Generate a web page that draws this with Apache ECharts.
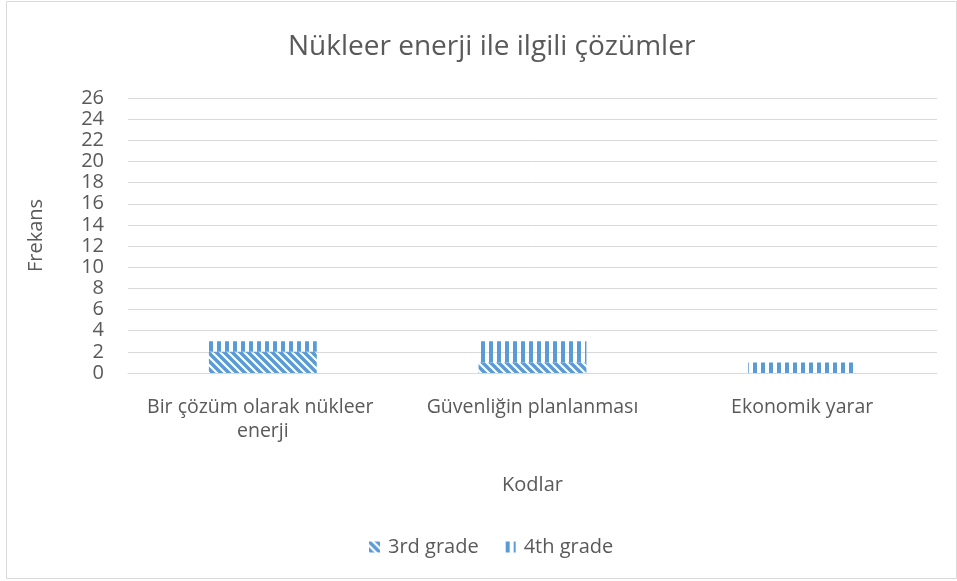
<!DOCTYPE html>
<html>
<head>
<meta charset="utf-8">
<script src="https://cdn.jsdelivr.net/npm/echarts@6/dist/echarts.min.js"></script>
<style>
  html, body { margin: 0; padding: 0; background: #fff; }
  #chart { width: 957px; height: 581px; }
</style>
</head>
<body>
<div id="chart"></div>
<script>
const titleText = 'Nükleer enerji ile ilgili çözümler';
const categories = ['Bir çözüm olarak nükleer enerji', 'Güvenliğin planlanması', 'Ekonomik yarar'];
const seriesNames = ['3rd grade', '4th grade'];
const grade3 = [2, 1, 0];
const grade4 = [1, 2, 1];
const yTicks = { min: 0, max: 26, step: 2 };

const BLUE = '#5b9bd5';
const TEXT = '#595959';
const FONT = '"Open Sans", sans-serif';

// Wide downward-diagonal hatch
function diagonalPattern() {
  const c = document.createElement('canvas');
  c.width = 8; c.height = 8;
  const g = c.getContext('2d');
  g.strokeStyle = BLUE;
  g.lineWidth = 3.5;
  g.lineCap = 'square';
  for (const x of [-8, 0, 8]) {
    g.beginPath();
    g.moveTo(x, 0);
    g.lineTo(x + 8, 8);
    g.stroke();
  }
  return c;
}

// Wide vertical stripes
function verticalPattern() {
  const c = document.createElement('canvas');
  c.width = 8; c.height = 8;
  const g = c.getContext('2d');
  g.fillStyle = BLUE;
  g.fillRect(1, 0, 4, 8);
  return c;
}

const chart = echarts.init(document.getElementById('chart'), null, { renderer: 'canvas' });

chart.setOption({
  backgroundColor: '#fff',
  animation: false,
  title: {
    text: titleText,
    left: 283,
    top: 28,
    textStyle: { fontFamily: FONT, fontSize: 28, fontWeight: 'normal', color: TEXT }
  },
  graphic: [{
    type: 'rect',
    shape: { x: 6.5, y: 1.5, width: 950, height: 577 },
    style: { fill: null, stroke: '#d9d9d9', lineWidth: 1 },
    silent: true
  }],
  legend: {
    top: 532,
    left: 364,
    icon: 'rect',
    itemWidth: 11,
    itemHeight: 11,
    itemGap: 26,
    textStyle: { fontFamily: FONT, fontSize: 20, color: TEXT, padding: [0, 0, 0, 3] },
    data: seriesNames
  },
  grid: { left: 128, right: 20, top: 98, bottom: 208 },
  xAxis: {
    type: 'category',
    data: categories,
    name: 'Kodlar',
    nameLocation: 'middle',
    nameGap: 102,
    nameTextStyle: { fontFamily: FONT, fontSize: 20, color: TEXT },
    axisLine: { lineStyle: { color: '#d9d9d9' } },
    axisTick: { show: false },
    axisLabel: {
      interval: 0,
      margin: 22,
      width: 269,
      overflow: 'break',
      lineHeight: 24,
      fontFamily: FONT,
      fontSize: 19.5,
      color: TEXT
    }
  },
  yAxis: {
    type: 'value',
    min: yTicks.min,
    max: yTicks.max,
    interval: yTicks.step,
    name: 'Frekans',
    nameLocation: 'middle',
    nameGap: 82,
    nameTextStyle: { fontFamily: FONT, fontSize: 20, color: TEXT },
    axisLine: { show: false },
    axisTick: { show: false },
    axisLabel: { margin: 24, fontFamily: FONT, fontSize: 20, color: TEXT, lineHeight: 20 },
    splitLine: { lineStyle: { color: '#d9d9d9' } }
  },
  series: [
    {
      name: seriesNames[0],
      type: 'bar',
      stack: 'total',
      barWidth: '40%',
      data: grade3,
      itemStyle: { color: { image: diagonalPattern(), repeat: 'repeat' } }
    },
    {
      name: seriesNames[1],
      type: 'bar',
      stack: 'total',
      barWidth: '40%',
      data: grade4,
      itemStyle: { color: { image: verticalPattern(), repeat: 'repeat' } }
    }
  ]
});
</script>
</body>
</html>
